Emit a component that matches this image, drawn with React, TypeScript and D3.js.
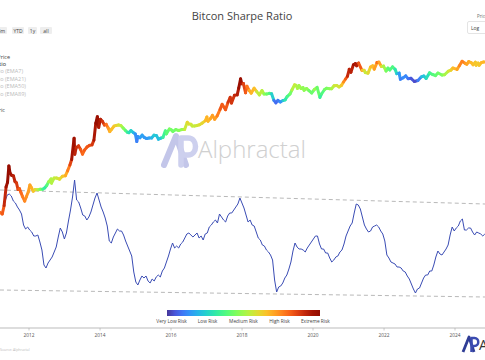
import React from "react";
import * as d3 from "d3";

const W = 485;
const H = 360;

const titleText = "Bitcon Sharpe Ratio";
const tickYears = [2012, 2014, 2016, 2018, 2020, 2022, 2024];
const rangeButtons = ["6m", "YTD", "1y", "all"];
const legendItems = ["BTC Price", "Sharpe Ratio", "Sharpe Ratio (EMA7)", "Sharpe Ratio (EMA21)", "Sharpe Ratio (EMA50)", "Sharpe Ratio (EMA89)", "Risk Metric"];
const legendActive = [true, true, false, false, false, false, true];
const riskLabels = ["Very Low Risk", "Low Risk", "Medium Risk", "High Risk", "Extreme Risk"];
const riskTickValues = [0.03, 0.265, 0.5, 0.735, 0.97];

const priceDates = [
  "2011-03-10","2011-04-01","2011-04-20","2011-05-10","2011-05-25","2011-06-08","2011-06-20","2011-07-05","2011-07-25","2011-08-10",
  "2011-08-25","2011-09-10","2011-09-25","2011-10-10","2011-10-25","2011-11-18","2011-12-05","2011-12-25","2012-01-10","2012-01-25",
  "2012-02-15","2012-03-05","2012-04-01","2012-04-25","2012-05-20","2012-06-10","2012-07-01","2012-07-20","2012-08-15","2012-08-20",
  "2012-09-15","2012-10-10","2012-11-10","2012-12-10","2013-01-10","2013-02-01","2013-02-25","2013-03-15","2013-04-09","2013-04-16",
  "2013-05-01","2013-05-25","2013-06-15","2013-07-05","2013-07-25","2013-08-20","2013-09-15","2013-10-10","2013-10-30","2013-11-18",
  "2013-12-04","2013-12-18","2014-01-05","2014-01-25","2014-02-15","2014-03-05","2014-03-25","2014-04-11","2014-04-30","2014-05-25",
  "2014-06-15","2014-07-10","2014-08-05","2014-08-25","2014-09-20","2014-10-10","2014-10-25","2014-11-15","2014-12-10","2014-12-30",
  "2015-01-14","2015-01-25","2015-02-15","2015-03-10","2015-04-01","2015-04-25","2015-05-20","2015-06-15","2015-07-10","2015-08-05",
  "2015-08-25","2015-09-15","2015-10-10","2015-11-04","2015-11-15","2015-12-15","2016-01-05","2016-01-20","2016-02-20","2016-03-20",
  "2016-04-20","2016-05-20","2016-06-16","2016-07-01","2016-07-25","2016-08-05","2016-08-30","2016-09-25","2016-10-20","2016-11-15",
  "2016-12-20","2017-01-04","2017-01-15","2017-02-10","2017-03-03","2017-03-25","2017-04-20","2017-05-20","2017-06-10","2017-07-15",
  "2017-08-10","2017-09-01","2017-09-15","2017-10-15","2017-11-12","2017-11-28","2017-12-17","2017-12-30","2018-01-15","2018-02-06",
  "2018-02-20","2018-03-15","2018-04-05","2018-05-05","2018-06-01","2018-06-28","2018-07-25","2018-08-15","2018-09-10","2018-10-10",
  "2018-11-01","2018-11-25","2018-12-15","2019-01-05","2019-01-30","2019-02-25","2019-03-20","2019-04-10","2019-05-10","2019-05-30",
  "2019-06-26","2019-07-10","2019-07-25","2019-08-10","2019-08-30","2019-09-20","2019-10-01","2019-10-26","2019-11-20","2019-12-18",
  "2020-01-15","2020-02-12","2020-03-12","2020-03-30","2020-04-29","2020-05-20","2020-06-15","2020-07-10","2020-08-05","2020-09-01",
  "2020-09-25","2020-10-20","2020-11-10","2020-12-01","2020-12-20","2021-01-08","2021-01-25","2021-02-20","2021-03-13","2021-03-25",
  "2021-04-14","2021-05-19","2021-06-10","2021-06-22","2021-07-20","2021-08-15","2021-09-06","2021-09-22","2021-10-20","2021-11-09",
  "2021-12-05","2021-12-27","2022-01-22","2022-02-10","2022-03-01","2022-03-29","2022-04-25","2022-05-12","2022-06-05","2022-06-18",
  "2022-07-15","2022-08-12","2022-09-05","2022-10-05","2022-11-09","2022-12-15","2023-01-20","2023-02-15","2023-03-10","2023-04-14",
  "2023-05-15","2023-06-15","2023-07-10","2023-08-20","2023-09-15","2023-10-25","2023-11-20","2023-12-10","2024-01-22","2024-02-15",
  "2024-03-14","2024-04-15","2024-05-01","2024-05-21","2024-06-15","2024-07-05","2024-07-28","2024-08-05","2024-08-25","2024-09-06",
  "2024-09-28","2024-10-20","2024-11-05"
];

const priceValues = [
  0.9, 0.8, 1.5, 6, 8.5, 29, 17, 14.5, 13.8, 9,
  8.2, 5, 5.3, 4, 3, 2.1, 2.9, 4.2, 7, 5.8,
  4.4, 5, 4.9, 5.1, 5.1, 5.6, 6.7, 8.8, 11, 8,
  11.8, 11.8, 10.8, 13.4, 14, 20, 31, 47, 230, 70,
  115, 130, 100, 70, 95, 120, 135, 140, 200, 700,
  1150, 520, 950, 820, 620, 650, 500, 380, 450, 570,
  600, 620, 590, 500, 410, 360, 350, 410, 350, 315,
  180, 260, 240, 290, 245, 225, 235, 235, 290, 280,
  215, 230, 245, 400, 320, 460, 430, 380, 440, 410,
  440, 445, 760, 670, 655, 580, 575, 600, 630, 710,
  860, 1130, 820, 1000, 1270, 950, 1230, 2000, 2900, 1950,
  3400, 4900, 3200, 5700, 5900, 9800, 19500, 13500, 13700, 6900,
  11200, 8200, 6700, 9700, 7500, 5900, 8200, 6300, 6300, 6600,
  6400, 3900, 3250, 3900, 3450, 3850, 4050, 5200, 6300, 8600,
  12500, 12000, 9600, 11800, 9500, 10100, 8300, 9500, 8100, 6800,
  8800, 10300, 4900, 6400, 8800, 9700, 9400, 9300, 11700, 11900,
  10700, 12000, 15400, 19300, 23500, 40000, 32000, 56000, 61000, 52000,
  63500, 37000, 37000, 31500, 29800, 47000, 52000, 40500, 66000, 68000,
  49000, 50500, 35000, 44000, 38000, 47500, 39500, 28900, 30000, 19000,
  21000, 24400, 19800, 20300, 16000, 17300, 22700, 24200, 20000, 30500,
  27000, 25000, 30300, 26000, 26500, 34500, 37500, 43800, 39500, 52000,
  73000, 62000, 58000, 71000, 66000, 56000, 68000, 54000, 64000, 54000,
  65800, 69000, 69000
];

const riskValues = [
  0.8, 0.78, 0.85, 0.95, 0.97, 1.0, 0.97, 0.95, 0.93, 0.9,
  0.88, 0.85, 0.82, 0.8, 0.78, 0.75, 0.73, 0.72, 0.7, 0.7,
  0.66, 0.62, 0.55, 0.48, 0.4, 0.3, 0.35, 0.45, 0.55, 0.5,
  0.55, 0.55, 0.58, 0.62, 0.66, 0.72, 0.8, 0.9, 1.0, 0.92,
  0.9, 0.88, 0.84, 0.78, 0.8, 0.82, 0.82, 0.84, 0.9, 0.98,
  1.0, 0.94, 0.93, 0.9, 0.85, 0.8, 0.75, 0.68, 0.66, 0.65,
  0.62, 0.6, 0.55, 0.5, 0.42, 0.35, 0.3, 0.28, 0.22, 0.18,
  0.1, 0.13, 0.15, 0.18, 0.16, 0.15, 0.16, 0.18, 0.24, 0.25,
  0.2, 0.22, 0.28, 0.4, 0.36, 0.45, 0.45, 0.42, 0.44, 0.45,
  0.48, 0.5, 0.62, 0.6, 0.58, 0.55, 0.55, 0.56, 0.58, 0.6,
  0.62, 0.7, 0.65, 0.68, 0.72, 0.7, 0.72, 0.8, 0.84, 0.78,
  0.85, 0.9, 0.85, 0.9, 0.9, 0.95, 1.0, 0.95, 0.9, 0.8,
  0.82, 0.72, 0.65, 0.7, 0.6, 0.5, 0.58, 0.48, 0.45, 0.4,
  0.35, 0.15, 0.05, 0.12, 0.1, 0.2, 0.28, 0.35, 0.4, 0.48,
  0.58, 0.55, 0.5, 0.52, 0.48, 0.5, 0.45, 0.5, 0.45, 0.4,
  0.45, 0.52, 0.32, 0.35, 0.42, 0.45, 0.45, 0.48, 0.56, 0.58,
  0.55, 0.6, 0.7, 0.78, 0.85, 0.95, 0.88, 0.95, 0.97, 0.9,
  0.95, 0.68, 0.62, 0.55, 0.55, 0.66, 0.68, 0.64, 0.78, 0.8,
  0.6, 0.56, 0.45, 0.42, 0.38, 0.4, 0.35, 0.25, 0.2, 0.1,
  0.12, 0.15, 0.1, 0.08, 0.02, 0.05, 0.18, 0.25, 0.22, 0.35,
  0.38, 0.4, 0.42, 0.45, 0.48, 0.55, 0.6, 0.65, 0.68, 0.72,
  0.78, 0.73, 0.7, 0.7, 0.68, 0.64, 0.66, 0.62, 0.65, 0.62,
  0.66, 0.68, 0.66
];

const sharpeStart = "2011-05-01";
const sharpeStepDays = 21;
const sharpeValues = [
  3.70, 4.00, 4.05, 3.95, 3.70, 3.60, 3.40, 3.25, 3.05, 2.50,
  2.30, 2.40, 2.25, 2.15, 1.95, 1.95, 2.00, 1.65, 1.25, 0.50,
  0.35, 0.60, 0.75, 0.90, 1.15, 1.40, 1.90, 2.35, 2.15, 1.80,
  2.10, 2.70, 3.25, 3.90, 4.75, 3.75, 3.65, 3.35, 3.00, 2.95,
  2.75, 2.90, 3.15, 3.50, 3.85, 4.10, 3.75, 3.40, 3.15, 2.85,
  2.45, 1.70, 1.60, 1.90, 2.10, 2.30, 2.20, 2.20, 2.00, 1.70,
  1.45, 1.20, 0.95, 0.15, -0.35, -0.50, -0.25, -0.05, -0.15, -0.05,
  -0.30, -0.40, -0.20, -0.30, -0.10, 0.00, -0.10, 0.20, 0.35, 0.65,
  0.95, 1.30, 1.60, 1.35, 1.45, 1.35, 1.55, 1.65, 1.85, 2.05,
  2.10, 2.00, 1.90, 2.00, 2.10, 1.85, 1.95, 1.75, 2.05, 2.10,
  2.40, 2.50, 2.65, 2.75, 2.60, 3.05, 2.90, 2.75, 2.65, 2.95,
  3.10, 3.10, 3.25, 3.40, 3.55, 3.85, 3.60, 3.35, 3.00, 2.65,
  2.75, 2.50, 2.45, 2.15, 1.85, 1.75, 1.50, 1.45, 1.25, 1.15,
  1.00, 0.75, -0.25, -0.85, -0.60, -0.55, -0.40, -0.15, 0.00, 0.30,
  0.65, 1.20, 1.60, 1.40, 1.30, 1.30, 1.25, 1.15, 1.35, 1.50,
  1.65, 1.80, 1.95, 1.95, 1.55, 1.30, 1.30, 1.10, 1.10, 0.85,
  0.65, 0.75, 0.90, 0.95, 1.15, 1.25, 1.55, 1.95, 2.20, 2.45,
  2.60, 3.10, 3.55, 3.50, 3.30, 2.90, 2.50, 2.30, 2.15, 2.20,
  2.40, 2.45, 2.50, 2.40, 2.20, 2.05, 1.70, 1.00, 0.85, 0.65,
  0.60, 0.55, 0.40, 0.40, 0.35, 0.20, 0.15, -0.05, -0.20, -0.45,
  -0.70, -0.90, -0.70, -0.65, -0.40, -0.15, 0.00, 0.00, 0.20, 0.20,
  0.50, 0.90, 1.20, 1.05, 1.00, 1.15, 1.30, 1.50, 2.00, 2.40,
  2.20, 2.35, 2.45, 2.70, 2.80, 2.25, 2.25, 2.35, 2.35, 2.15,
  2.00, 2.15, 2.10, 2.05, 1.95, 2.05
];

const bandDates = ["2011-03-08", "2024-11-06"];
const upperBand = [4.25, 3.55];
const lowerBand = [-0.75, -1.1];

const FONT = "'Open Sans', 'DejaVu Sans', sans-serif";

export default function App() {
  const parse = d3.timeParse("%Y-%m-%d");
  const x = d3.scaleTime().domain([new Date(2012, 0, 1), new Date(2024, 0, 1)]).range([29, 455]);
  const yP = d3.scaleLog().domain([1, 100000]).range([211, 57]);
  const yS = d3.scaleLinear().domain([-1, 4]).range([295, 195]);
  const riskColor = (t: number) => d3.interpolateTurbo(0.05 + 0.93 * t);
  const cbar = d3.scaleLinear().domain([0, 1]).range([167, 320]);

  const pDates = priceDates.map((s) => parse(s) as Date);
  const segs = pDates.slice(1).map((d, i) => ({
    x1: x(pDates[i]),
    y1: yP(priceValues[i]),
    x2: x(d),
    y2: yP(priceValues[i + 1]),
    c: riskColor((riskValues[i] + riskValues[i + 1]) / 2),
  }));

  const s0 = parse(sharpeStart) as Date;
  const sharpePts: [number, number][] = sharpeValues.map((v, i) => [
    x(d3.timeDay.offset(s0, i * sharpeStepDays)),
    yS(v),
  ]);
  const line = d3.line();
  const bD = bandDates.map((s) => parse(s) as Date);
  const upperPts: [number, number][] = bD.map((d, i) => [x(d), yS(upperBand[i])]);
  const lowerPts: [number, number][] = bD.map((d, i) => [x(d), yS(lowerBand[i])]);

  const gradStops = d3.range(0, 1.0001, 0.05);
  const btnX = [-4, 12, 28, 40];
  const btnW = [11, 12, 9, 12];

  return (
    <svg width={W} height={H} style={{ position: "absolute", left: 0, top: 0, background: "#fff" }} fontFamily={FONT}>
      <defs>
        <linearGradient id="riskGrad" x1="0" x2="1" y1="0" y2="0">
          {gradStops.map((t) => (
            <stop key={t} offset={t} stopColor={riskColor(t)} />
          ))}
        </linearGradient>
      </defs>
      <rect x={0} y={0} width={W} height={H} fill="#fff" />

      {/* title */}
      <text x={242} y={20} textAnchor="middle" fontSize={11} fill="#444">{titleText}</text>

      {/* range selector */}
      {rangeButtons.map((b, i) => (
        <g key={b}>
          <rect x={btnX[i]} y={27} width={btnW[i]} height={7} rx={1} fill="#eeeeee" />
          <text x={btnX[i] + btnW[i] / 2} y={32.6} textAnchor="middle" fontSize={5} fill="#444">{b}</text>
        </g>
      ))}

      {/* legend (cut off on left) */}
      {legendItems.map((t, i) => {
        const yy = [59, 66, 73, 80.5, 88, 95.5, 112][i];
        const xe = [10, 6, 23, 26, 26, 26, 5][i];
        return (
          <text key={t} x={xe} y={yy} textAnchor="end" fontSize={5.5} fill={legendActive[i] ? (i === 1 ? "#222" : "#444") : "#bbb"}>{t}</text>
        );
      })}

      {/* top-right dropdown */}
      <text x={477} y={18} fontSize={4.5} fill="#666">Price</text>
      <rect x={467.5} y={21.5} width={30} height={12} rx={1.5} fill="#fff" stroke="#ddd" strokeWidth={0.8} />
      <text x={471} y={29.5} fontSize={5} fill="#444">Log</text>

      {/* watermark */}
      <g opacity={0.85}>
        <path d="M164,165 L176,136 L186,165" fill="none" stroke="#b9bde6" strokeWidth={6} strokeLinejoin="round" strokeLinecap="round" />
        <path d="M181,165 L181,138 L188,138 C198,138 198,155 188,155 L181,155" fill="none" stroke="#c5c8ec" strokeWidth={5.5} strokeLinejoin="round" strokeLinecap="round" />
        <text x={198} y={158} fontSize={24} fill="#c8c8c8" fontFamily="'Open Sans', sans-serif" fontWeight={300}>Alphractal</text>
      </g>

      {/* band lines */}
      <path d={line(upperPts) || ""} fill="none" stroke="#b0b0b0" strokeWidth={0.9} strokeDasharray="4,3" />
      <path d={line(lowerPts) || ""} fill="none" stroke="#b0b0b0" strokeWidth={0.9} strokeDasharray="4,3" />

      {/* sharpe line */}
      <path d={line(sharpePts) || ""} fill="none" stroke="#3a4cb4" strokeWidth={1} strokeLinejoin="round" />

      {/* price line colored by risk */}
      {segs.map((s, i) => (
        <line key={i} x1={s.x1} y1={s.y1} x2={s.x2} y2={s.y2} stroke={s.c} strokeWidth={3} strokeLinecap="round" />
      ))}

      {/* colorbar */}
      <rect x={cbar(0)} y={310} width={cbar(1) - cbar(0)} height={6} fill="url(#riskGrad)" />
      {riskLabels.map((l, i) => (
        <text key={l} x={cbar(riskTickValues[i])} y={323} textAnchor="middle" fontSize={4.8} fill="#444">{l}</text>
      ))}

      {/* x axis */}
      <line x1={0} x2={W} y1={328} y2={328} stroke="#aaa" strokeWidth={0.8} />
      {tickYears.map((yr) => {
        const xx = x(new Date(yr, 0, 1));
        return (
          <g key={yr}>
            <line x1={xx} x2={xx} y1={328} y2={330.5} stroke="#aaa" strokeWidth={0.6} />
            <text x={xx} y={337} textAnchor="middle" fontSize={4.8} fill="#555">{yr}</text>
          </g>
        );
      })}

      {/* bottom-left note */}
      <text x={0} y={351} fontSize={3.5} fill="#bbb">Source: Alphractal</text>

      {/* bottom-right logo */}
      <path d="M463,352 L469,337 L474,352" fill="none" stroke="#2f3d96" strokeWidth={2.8} strokeLinejoin="round" />
      <path d="M471.5,352 L471.5,338 L474.5,338 C479.5,338 479.5,346 474.5,346 L471.5,346" fill="none" stroke="#3b4bb0" strokeWidth={2.5} strokeLinejoin="round" />
      <text x={479} y={350} fontSize={14} fill="#333">A</text>
    </svg>
  );
}
